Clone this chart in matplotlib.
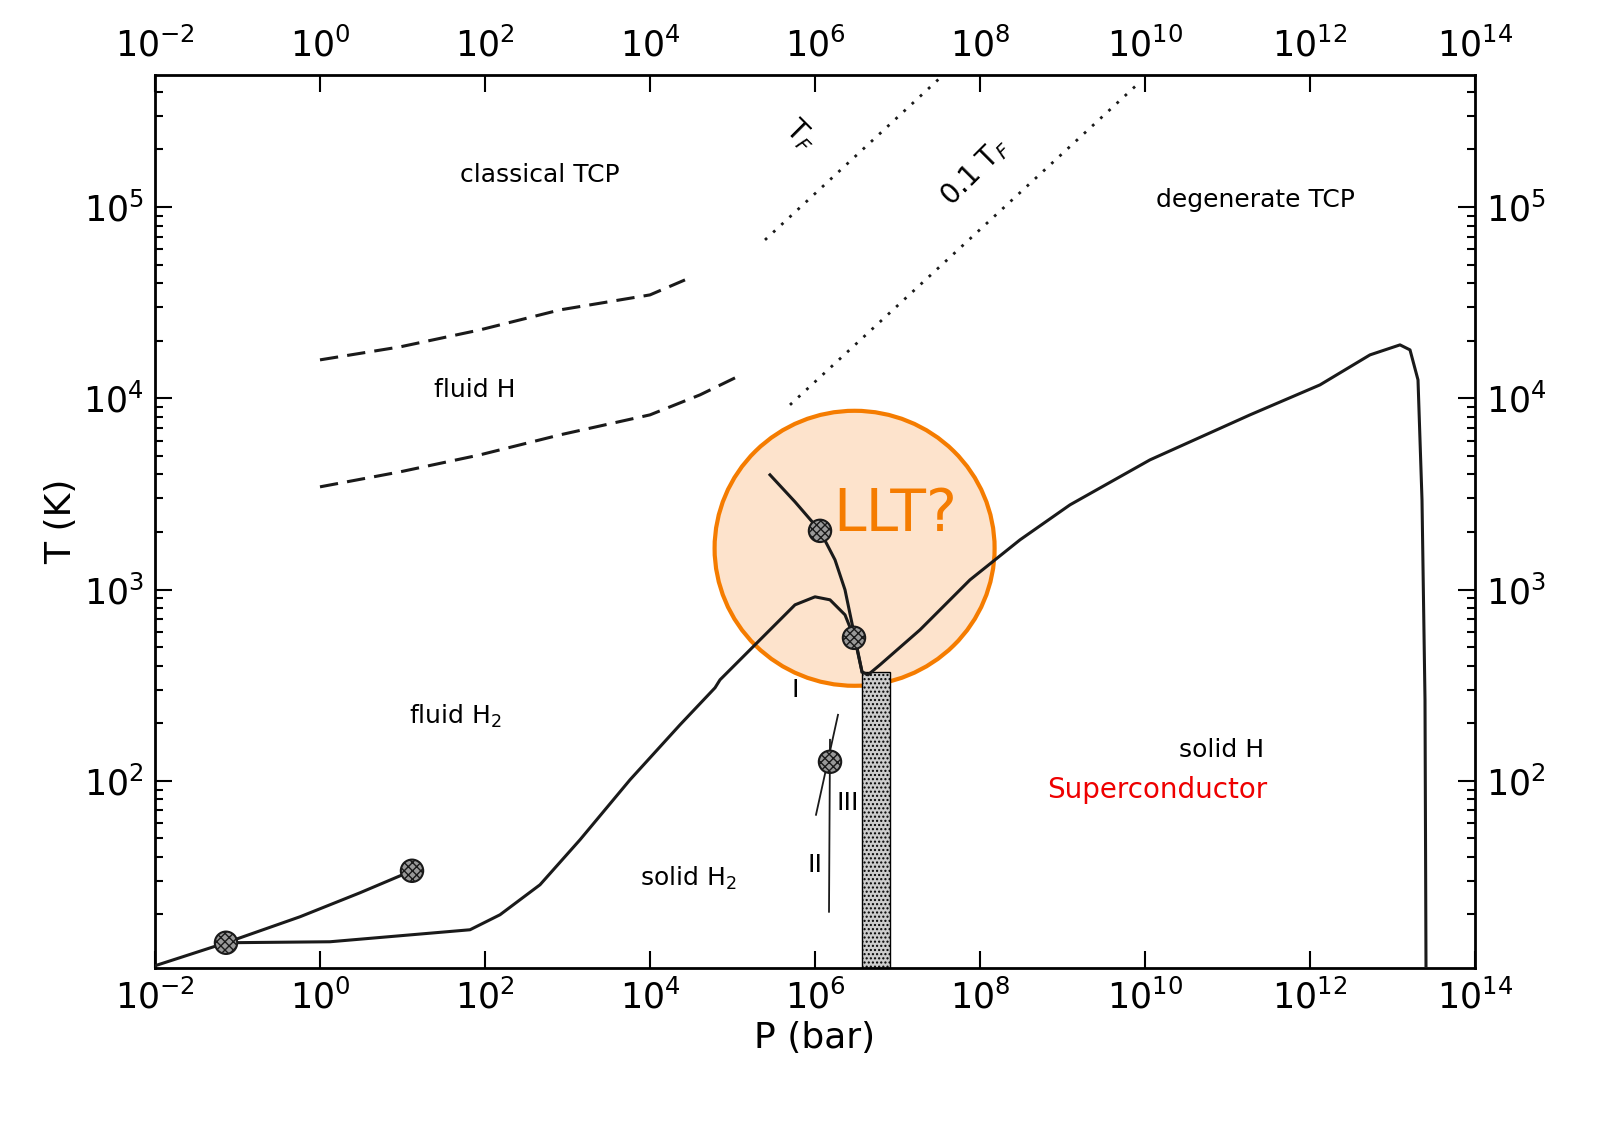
import numpy as np
import matplotlib.pyplot as plt
from matplotlib.patches import Ellipse, Rectangle

# pixel -> data helpers derived from axis calibration of the reference
def px(x):
    return 10 ** (-2 + (np.asarray(x) - 155) / 82.5)

def py(y):
    return 10 ** (2 + (781 - np.asarray(y)) / 191.3)

# melting / phase boundary curves (pressure in bar, T in K)
main_P = px([155, 226])
main_T = py([966, 943])
lv_P = px([226, 300, 360, 412])
lv_T = py([943, 917, 893, 871])
melt_P = px([226, 330, 470, 500, 540, 580, 630, 680, 715, 720, 760, 790, 795, 815, 830, 845, 855, 862, 868,
             880, 920, 970, 1020, 1070, 1150, 1250, 1320, 1370, 1400, 1410, 1418, 1422, 1425, 1426])
melt_T = py([943, 942, 930, 915, 885, 840, 780, 725, 688, 680, 640, 610, 605, 597, 600, 615, 640, 672, 675,
             665, 630, 580, 540, 505, 460, 415, 385, 355, 345, 350, 380, 500, 700, 968])
llt_P = px([770, 795, 820, 835, 845, 855, 862])
llt_T = py([475, 502, 531, 560, 590, 638, 672])
pts_P = px([226, 412, 820, 854, 830])
pts_T = py([943, 871, 531, 638, 762])
ion1_P = px([320, 400, 480, 560, 650, 685])
ion1_T = py([360, 347, 330, 310, 295, 280])
ion2_P = px([320, 400, 480, 560, 650, 700, 735])
ion2_T = py([487, 472, 455, 435, 415, 395, 378])
tf_P = px([765, 940])
tf_T = py([240, 78])
tf01_P = px([790, 1140])
tf01_T = py([405, 82])

fig = plt.figure(figsize=(16.19, 11.43), dpi=100)
ax = fig.add_axes([155 / 1619, 1 - 968 / 1143, 1320 / 1619, 893 / 1143])
ax.set_xscale("log")
ax.set_yscale("log")
ax.set_xlim(1e-2, 1e14)
ax.set_ylim(10.5, 4.9e5)

ell = Ellipse((0.530, 0.470), 280 / 1320, 275 / 893, transform=ax.transAxes,
              facecolor="#fde3cc", edgecolor="#f57c00", lw=3, zorder=1)
ax.add_patch(ell)

ax.add_patch(Rectangle((px(862), py(968)), px(890) - px(862), py(672) - py(968),
                       facecolor="#cccccc", edgecolor="black", hatch="....", lw=1, zorder=2))

k = dict(color="#1a1a1a", lw=2.2, zorder=3)
ax.plot(main_P, main_T, **k)
ax.plot(lv_P, lv_T, **k)
ax.plot(melt_P, melt_T, **k)
ax.plot(llt_P, llt_T, **k)
ax.plot(px([838, 816]), py([715, 815]), color="#1a1a1a", lw=1.3)
ax.plot(px([830, 829]), py([740, 912]), color="#1a1a1a", lw=1.3)
ax.plot(ion1_P, ion1_T, color="#1a1a1a", lw=2.2, ls=(0, (6, 3)))
ax.plot(ion2_P, ion2_T, color="#1a1a1a", lw=2.2, ls=(0, (6, 3)))
ax.plot(tf_P, tf_T, color="#1a1a1a", lw=2, ls=(0, (1, 3)))
ax.plot(tf01_P, tf01_T, color="#1a1a1a", lw=2, ls=(0, (1, 3)))
ax.scatter(pts_P, pts_T, s=260, facecolor="#999999", edgecolor="#1a1a1a", hatch="xxxx", lw=1.5, zorder=5)

def lab(x, y, s, **kw):
    kw.setdefault("fontsize", 18)
    ax.text(px(x), py(y), s, ha="center", va="center", **kw)

lab(540, 175, "classical TCP")
lab(475, 390, "fluid H")
lab(455, 717, "fluid H$_2$")
lab(688, 879, "solid H$_2$")
lab(1222, 750, "solid H")
lab(1157, 790, "Superconductor", color="#ee0000", fontsize=20)
lab(1255, 200, "degenerate TCP")
lab(895, 515, "LLT?", color="#f57c00", fontsize=42)
lab(800, 135, "T$_F$", rotation=-45, fontsize=20)
lab(975, 172, "0.1 T$_F$", rotation=45, fontsize=20)
lab(795, 690, "I")
lab(848, 803, "III")
lab(815, 865, "II")

ax.set_xticks([10.0 ** e for e in range(-2, 15, 2)])
ax.set_yticks([1e2, 1e3, 1e4, 1e5])
ax.tick_params(which="both", direction="in", top=True, right=True, labeltop=True, labelright=True,
               labelsize=25, width=1.5, pad=8)
ax.tick_params(which="major", length=12)
ax.tick_params(which="minor", length=6)
for s in ax.spines.values():
    s.set_linewidth(2)
ax.set_xlabel("P (bar)", fontsize=26)
ax.set_ylabel("T (K)", fontsize=26)

fig.savefig("out.png", dpi=100)
